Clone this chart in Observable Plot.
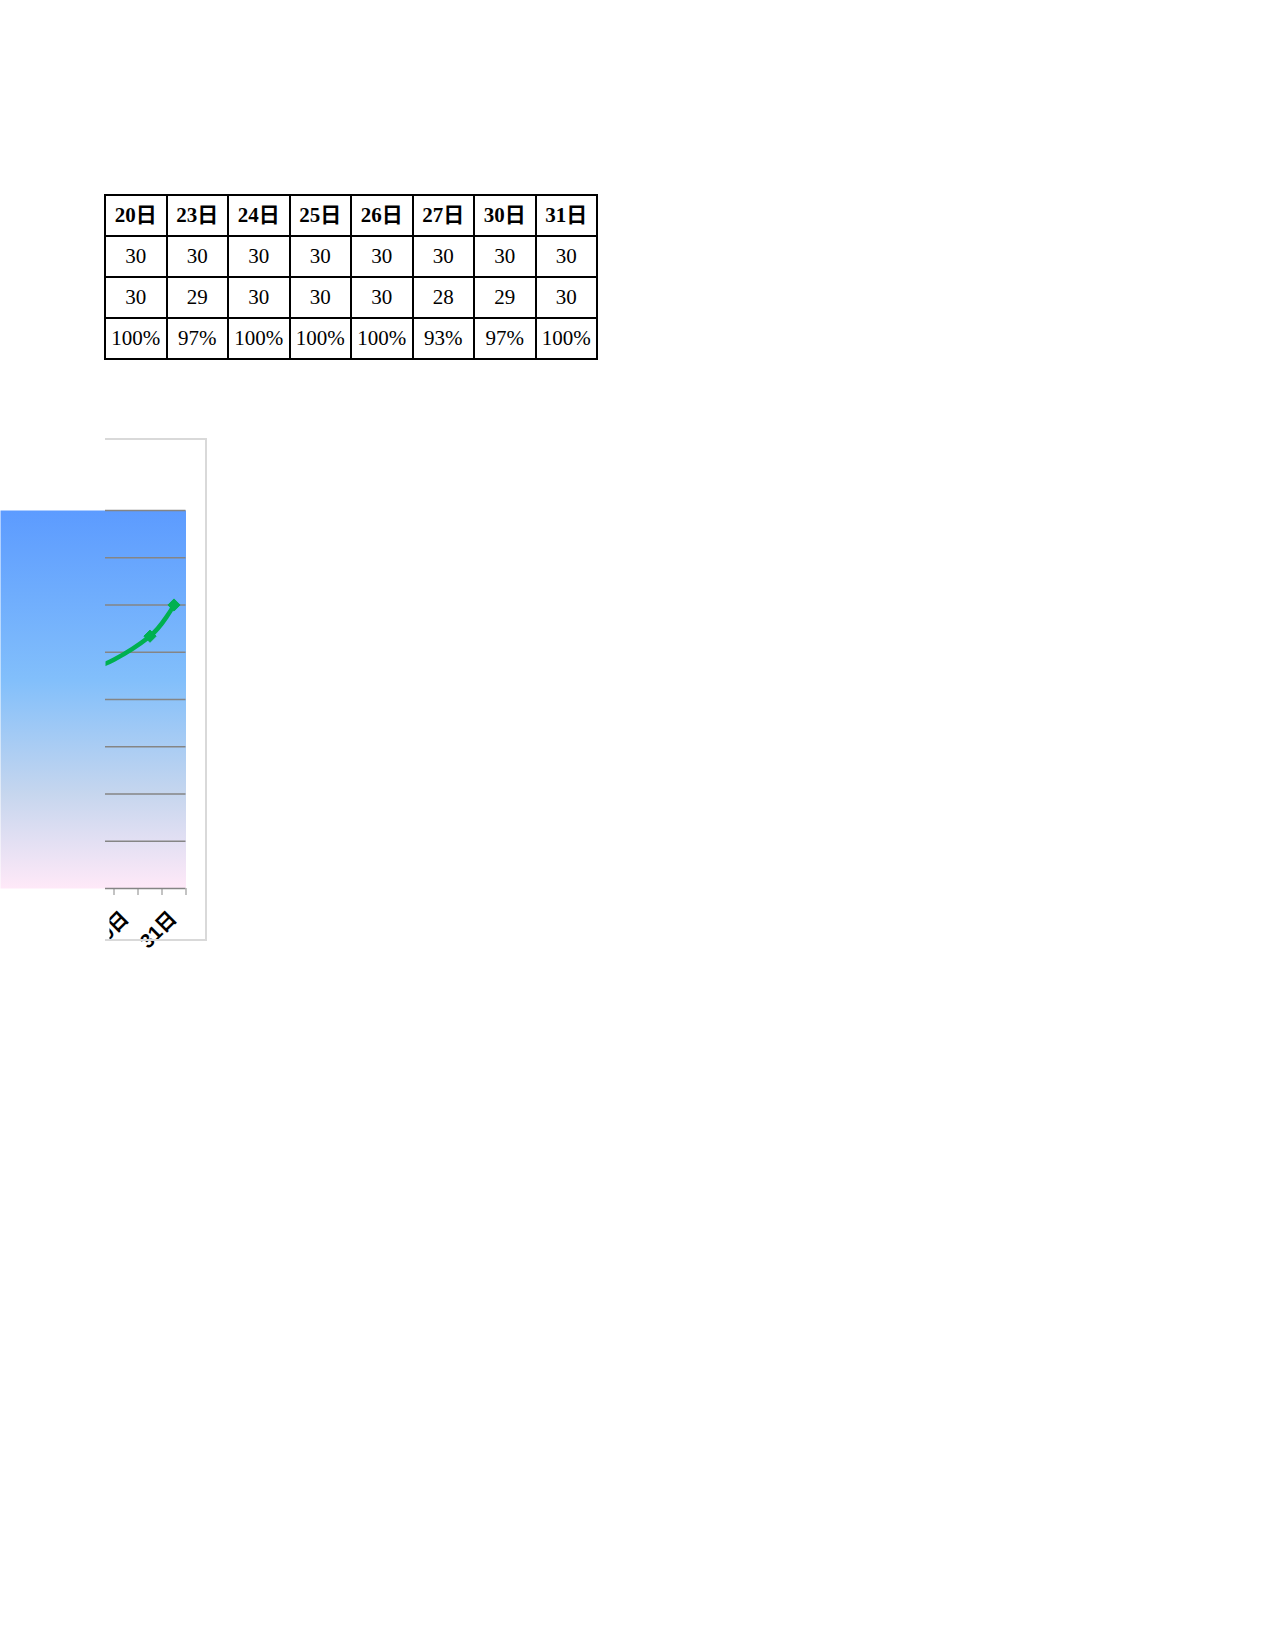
<!DOCTYPE html>
<html><head><meta charset="utf-8">
<script src="https://cdn.jsdelivr.net/npm/d3@7"></script>
<script src="https://cdn.jsdelivr.net/npm/@observablehq/plot@0.6"></script>
<style>
html,body{margin:0;padding:0;background:#fff;}
body{width:1275px;height:1650px;position:relative;overflow:hidden;}
#tbl{position:absolute;left:104px;top:194px;border-collapse:collapse;table-layout:fixed;width:494px;}
#tbl td{border:2px solid #000;height:39px;padding:0;text-align:center;font-family:"Liberation Serif","Noto Sans CJK JP",serif;font-size:21px;color:#000;line-height:39px;}
#tbl tr.hd td{font-weight:bold;}
#chart{position:absolute;left:0;top:439px;}
#border{position:absolute;left:105px;top:438px;width:102px;height:503px;border:2px solid #d9d9d9;border-left:none;box-sizing:border-box;pointer-events:none;}
</style></head><body>
<table id="tbl"></table>
<div id="chart"></div>
<div id="border"></div>
<script>
// ---- data ----
const dates = ["20日","23日","24日","25日","26日","27日","30日","31日"];
const days = [20, 23, 24, 25, 26, 27, 30, 31];
const planned = [30, 30, 30, 30, 30, 30, 30, 30];
const actual = [30, 29, 30, 30, 30, 28, 29, 30];
const rateLabels = ["100%","97%","100%","100%","100%","93%","97%","100%"];
const rates = [1.0, 0.967, 1.0, 1.0, 1.0, 0.933, 0.967, 1.0];
const yTicks = [0.70, 0.75, 0.80, 0.85, 0.90, 0.95, 1.00, 1.05, 1.10];
const xTickBounds = [26.5, 27.5, 28.5, 29.5, 30.5, 31.5];
const xLabelDays = [29, 31];
const xLabels = ["29日", "31日"];

// ---- table ----
const tbl = d3.select("#tbl");
const rowsT = [dates, planned, actual, rateLabels];
rowsT.forEach((r, i) => {
  const tr = tbl.append("tr").attr("class", i === 0 ? "hd" : null);
  r.forEach(v => tr.append("td").text(v));
});

// ---- chart ----
const pts = days.map((d, i) => ({day: d, rate: rates[i]}));
const W = 215, H = 530;
const chart = Plot.plot({
  width: W, height: H,
  marginLeft: 0, marginRight: W - 185.5, marginTop: 71, marginBottom: H - 449,
  style: {background: "transparent", color: "#878787", overflow: "visible"},
  x: {domain: [23.77, 31.5], ticks: xTickBounds, tickSize: 7, tickFormat: () => "", label: null},
  y: {domain: [0.70, 1.10], axis: null},
  marks: [
    Plot.frame({fill: "url(#plotGrad)", stroke: "none"}),
    Plot.ruleY(yTicks, {stroke: "#858585", strokeWidth: 1.6}),
    Plot.line(pts, {x: "day", y: "rate", stroke: "#00b050", strokeWidth: 4.5, curve: "catmull-rom"}),
    Plot.dot(pts, {x: "day", y: "rate", symbol: "diamond2", r: 5.5, fill: "#00b050", stroke: "#00b050", strokeWidth: 1}),
    Plot.text(xLabelDays, {x: d => d, text: (d, i) => xLabels[i], frameAnchor: "bottom", dx: 4, dy: 31,
      rotate: -45, textAnchor: "end", fontSize: 20, fontWeight: "bold", fill: "#000",
      fontFamily: "'Liberation Sans','Noto Sans CJK JP',sans-serif"})
  ]
});
document.getElementById("chart").appendChild(chart);

const svg = d3.select(chart);
const defs = svg.insert("defs", ":first-child");
const grad = defs.append("linearGradient").attr("id", "plotGrad")
  .attr("x1", 0).attr("y1", 0).attr("x2", 0).attr("y2", 1);
[["0%", "#5c9bff"], ["45%", "#82bffb"], ["75%", "#c6d6ee"], ["100%", "#ffe9f8"]]
  .forEach(([o, c]) => grad.append("stop").attr("offset", o).attr("stop-color", c));
defs.append("clipPath").attr("id", "clipR").append("rect")
  .attr("x", 105).attr("y", -20).attr("width", 300).attr("height", H + 40);
svg.selectAll(":scope > g, :scope > rect, :scope > path, :scope > line").each(function () {
  const lab = this.getAttribute("aria-label") || "";
  if (lab !== "frame") this.setAttribute("clip-path", "url(#clipR)");
});
</script>
</body></html>
